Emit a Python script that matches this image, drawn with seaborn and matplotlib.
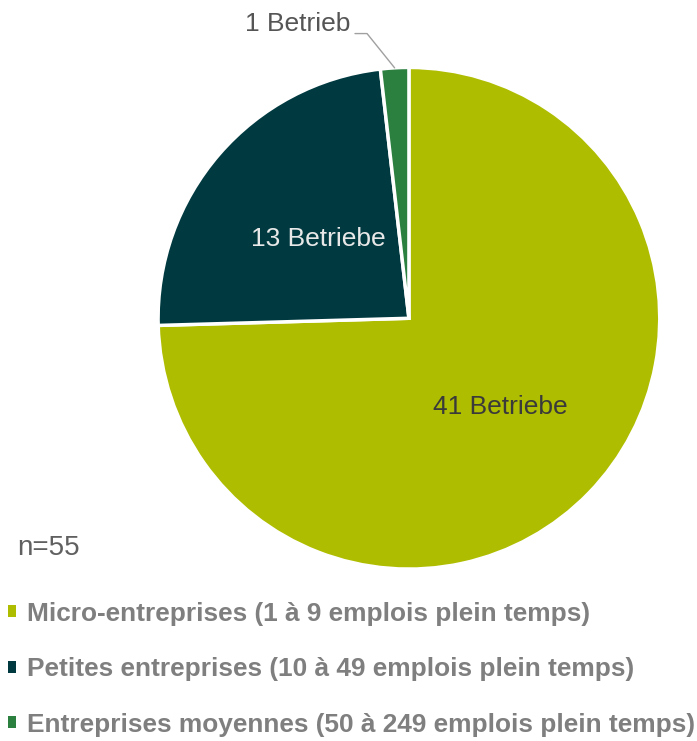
import numpy as np
import seaborn as sns
import matplotlib.pyplot as plt

# company size classes, n=55
categories = [
    "Micro-entreprises (1 à 9 emplois plein temps)",
    "Petites entreprises (10 à 49 emplois plein temps)",
    "Entreprises moyennes (50 à 249 emplois plein temps)",
]
counts = [41, 13, 1]
slice_labels = ["41 Betriebe", "13 Betriebe", "1 Betrieb"]
colors = ["#AFBD00", "#003A40", "#2B8040"]

sns.set_theme(style="white")
plt.rcParams["font.family"] = ["Liberation Sans", "DejaVu Sans"]

fig = plt.figure(figsize=(6.97, 7.41), dpi=100)
ax = fig.add_axes([0.2267, 0.232, 0.720, 0.677])

wedges, _ = ax.pie(
    counts,
    colors=colors,
    startangle=90,
    counterclock=False,
    wedgeprops=dict(edgecolor="white", linewidth=2.5),
)
ax.set_xlim(-1, 1)
ax.set_ylim(-1, 1)
ax.set_aspect("equal")

label_colors = ["#3A3A3A", "#E8E8E8"]
label_r = [0.51, 0.48]
for w, lab, c, r in zip(wedges[:2], slice_labels[:2], label_colors, label_r):
    mid = np.deg2rad((w.theta1 + w.theta2) / 2)
    ax.text(r * np.cos(mid), r * np.sin(mid), lab, ha="center",
            va="center", fontsize=19, color=c)

# small slice: label outside with leader line
w = wedges[2]
mid = np.deg2rad((w.theta1 + w.theta2) / 2)
edge = (np.cos(mid), np.sin(mid))
elbow = (-0.167, 1.135)
ax.plot([-0.215, elbow[0], edge[0]], [elbow[1], elbow[1], edge[1]],
        color="#A0A0A0", lw=1, clip_on=False)
ax.text(-0.235, 1.175, slice_labels[2], ha="right", va="center",
        fontsize=19, color="#555555")

fig.text(0.025, 0.26, "n=55", fontsize=20, color="#606060", va="center")

leg = fig.legend(
    wedges, categories,
    loc="upper left", bbox_to_anchor=(0.012, 0.188),
    frameon=False, borderpad=0, borderaxespad=0,
    handlelength=0.3, handleheight=0.3, handletextpad=0.4,
    labelspacing=1.2,
    prop=dict(family=["Liberation Sans", "DejaVu Sans"], weight="bold", size=18.9),
)
for t in leg.get_texts():
    t.set_color("#7F7F7F")
for h in leg.legend_handles:
    h.set_edgecolor("none")

fig.savefig("out.png", dpi=100)
